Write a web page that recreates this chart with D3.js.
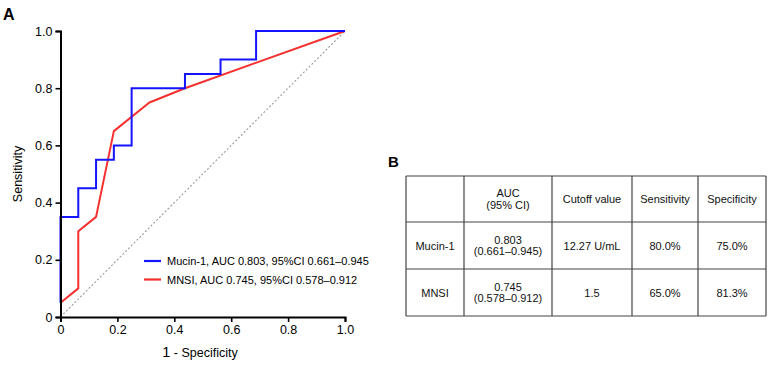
<!DOCTYPE html>
<html>
<head>
<meta charset="utf-8">
<script src="https://cdn.jsdelivr.net/npm/d3@7"></script>
<style>
  body { margin: 0; background: #fff; }
  svg { font-family: "Liberation Sans", Arial, sans-serif; }
</style>
</head>
<body>
<svg id="chart" width="771" height="367"></svg>
<script>
// ROC points, x = 1 - specificity, y = sensitivity
const mucinX = [0, 0, 0.0625, 0.0625, 0.125, 0.125, 0.1875, 0.1875, 0.25, 0.25, 0.4375, 0.4375, 0.5625, 0.5625, 0.6875, 0.6875, 1]
const mucinY = [0.05, 0.35, 0.35, 0.45, 0.45, 0.55, 0.55, 0.6, 0.6, 0.8, 0.8, 0.85, 0.85, 0.9, 0.9, 1, 1]
const mnsiX = [0, 0.0625, 0.0625, 0.125, 0.1875, 0.3125, 0.4375, 1]
const mnsiY = [0.05, 0.1, 0.3, 0.35, 0.65, 0.75, 0.8, 1]
const ticks = [0, 0.2, 0.4, 0.6, 0.8, 1]
const legendLabels = ['Mucin-1, AUC 0.803, 95%CI 0.661\u20130.945', 'MNSI, AUC 0.745, 95%CI 0.578\u20130.912']
const seriesColors = ['#1414ff', '#f5302f']

// table B
const tableHeader = [[''], ['AUC', '(95% CI)'], ['Cutoff value'], ['Sensitivity'], ['Specificity']]
const tableRows = [
  [['Mucin-1'], ['0.803', '(0.661\u20130.945)'], ['12.27 U/mL'], ['80.0%'], ['75.0%']],
  [['MNSI'], ['0.745', '(0.578\u20130.912)'], ['1.5'], ['65.0%'], ['81.3%']]
]
const colEdges = [406, 464, 552, 632, 698, 766]
const rowEdges = [176, 222, 269, 316]

let svg = d3.select('#chart')

let x = d3.scaleLinear().domain([0, 1]).range([60.5, 345])
let y = d3.scaleLinear().domain([0, 1]).range([317, 31])
let fmt = function (d) { return d === 0 ? '0' : d3.format('.1f')(d) }

// chance line
svg.append('line')
  .attr('x1', x(0)).attr('y1', y(0)).attr('x2', x(1)).attr('y2', y(1))
  .attr('stroke', '#9a9a9a').attr('stroke-width', 1.1)
  .attr('stroke-dasharray', '2,2')

let line = d3.line().x(d => x(d[0])).y(d => y(d[1]))

svg.append('path')
  .datum(mnsiX.map((v, i) => [v, mnsiY[i]]))
  .attr('d', line).attr('fill', 'none')
  .attr('stroke', seriesColors[1]).attr('stroke-width', 2)
  .attr('stroke-linejoin', 'round')

svg.append('path')
  .datum(mucinX.map((v, i) => [v, mucinY[i]]))
  .attr('d', line).attr('fill', 'none')
  .attr('stroke', seriesColors[0]).attr('stroke-width', 2)

// axes
let xAxis = svg.append('g')
  .attr('transform', 'translate(0,' + y(0) + ')')
  .call(d3.axisBottom(x).tickValues(ticks).tickFormat(fmt).tickSize(5).tickPadding(3))
let yAxis = svg.append('g')
  .attr('transform', 'translate(' + x(0) + ',0)')
  .call(d3.axisLeft(y).tickValues(ticks).tickFormat(fmt).tickSize(5).tickPadding(3))

for (let ax of [xAxis, yAxis]) {
  ax.select('.domain').attr('stroke', '#000').attr('stroke-width', 2)
  ax.selectAll('.tick line').attr('stroke', '#000').attr('stroke-width', 1.6)
  ax.selectAll('.tick text').attr('fill', '#000')
    .style('font-size', '12.5px').style('font-family', '"Liberation Sans", Arial, sans-serif')
}

// axis titles
let xt = svg.append('text')
  .attr('x', 200).attr('y', 357)
  .attr('text-anchor', 'middle').style('font-size', '12.5px')
xt.append('tspan').style('font-size', '14.5px').text('1')
xt.append('tspan').text(' - Specificity')

svg.append('text')
  .attr('transform', 'translate(22,174) rotate(-90)')
  .attr('text-anchor', 'middle').style('font-size', '12.5px')
  .text('Sensitivity')

// legend
legendLabels.forEach(function (lab, i) {
  let ly = 261 + i * 18.5
  svg.append('line')
    .attr('x1', 144).attr('x2', 161).attr('y1', ly).attr('y2', ly)
    .attr('stroke', seriesColors[i]).attr('stroke-width', 2.2)
  svg.append('text')
    .attr('x', 167).attr('y', ly + 4)
    .style('font-size', '11px').text(lab)
})

// panel letters
svg.append('text').attr('x', 3).attr('y', 20)
  .style('font-size', '16px').style('font-weight', 'bold').text('A')
svg.append('text').attr('x', 388).attr('y', 167)
  .style('font-size', '15px').style('font-weight', 'bold').text('B')

// table
let tbl = svg.append('g')
let allRows = [tableHeader].concat(tableRows)
allRows.forEach(function (row, r) {
  row.forEach(function (cell, c) {
    let cx = (colEdges[c] + colEdges[c + 1]) / 2
    let cy = (rowEdges[r] + rowEdges[r + 1]) / 2
    let lh = 11.5
    cell.forEach(function (txt, k) {
      tbl.append('text')
        .attr('x', cx)
        .attr('y', cy + (k - (cell.length - 1) / 2) * lh + 4)
        .attr('text-anchor', 'middle')
        .style('font-size', '11px')
        .attr('fill', '#111')
        .text(txt)
    })
  })
})
colEdges.forEach(function (cx) {
  tbl.append('line')
    .attr('x1', cx).attr('x2', cx).attr('y1', rowEdges[0]).attr('y2', rowEdges[rowEdges.length - 1])
    .attr('stroke', '#444').attr('stroke-width', 1.2)
})
rowEdges.forEach(function (ry) {
  tbl.append('line')
    .attr('x1', colEdges[0]).attr('x2', colEdges[colEdges.length - 1]).attr('y1', ry).attr('y2', ry)
    .attr('stroke', '#444').attr('stroke-width', 1.2)
})
</script>
</body>
</html>
